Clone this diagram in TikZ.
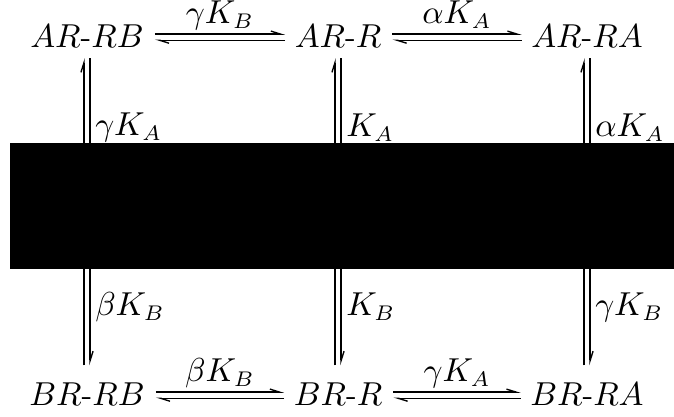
\documentclass[tikz,border=0pt]{standalone}
\usetikzlibrary{arrows.meta}
\begin{document}
\begin{tikzpicture}[x=0.33pt,y=-0.33pt,
  every node/.style={font=\fontsize{10.6}{13}\selectfont},
  st/.style={inner sep=0pt, text height=7.3pt, text depth=0pt, anchor=base},
  lab/.style={inner sep=1.5pt},
  hlab/.style={inner sep=0pt, anchor=base, yshift=3.4pt},
  hp/.style={line width=0.45pt, -{Straight Barb[harpoon,length=3.2pt,width=2pt,line width=0.45pt]}}]
\useasboundingbox (0,0) rectangle (674,416);
% nodes
\node[st] (arb) at (87,47)  {$AR$-$RB$};
\node[st] (ar)  at (338,47) {$AR$-$R$};
\node[st] (ara) at (587,47) {$AR$-$RA$};
\node[st] (brb) at (87,405)  {$BR$-$RB$};
\node[st] (br)  at (338,405) {$BR$-$R$};
\node[st] (bra) at (587,405) {$BR$-$RA$};
% horizontal top
\draw[hp] ([yshift=0.6pt,xshift=3.5pt]arb.east) -- node[hlab]{$\gamma K_B$} ([yshift=0.6pt,xshift=-3pt]ar.west);
\draw[hp] ([yshift=-1.4pt,xshift=-3pt]ar.west) -- ([yshift=-1.4pt,xshift=3.5pt]arb.east);
\draw[hp] ([yshift=0.6pt,xshift=3.5pt]ar.east) -- node[hlab]{$\alpha K_A$} ([yshift=0.6pt,xshift=-3pt]ara.west);
\draw[hp] ([yshift=-1.4pt,xshift=-3pt]ara.west) -- ([yshift=-1.4pt,xshift=3.5pt]ar.east);
% horizontal bottom
\draw[hp] ([yshift=0.6pt,xshift=3.5pt]brb.east) -- node[hlab]{$\beta K_B$} ([yshift=0.6pt,xshift=-3pt]br.west);
\draw[hp] ([yshift=-1.4pt,xshift=-3pt]br.west) -- ([yshift=-1.4pt,xshift=3.5pt]brb.east);
\draw[hp] ([yshift=0.6pt,xshift=3.5pt]br.east) -- node[hlab]{$\gamma K_A$} ([yshift=0.6pt,xshift=-3pt]bra.west);
\draw[hp] ([yshift=-1.4pt,xshift=-3pt]bra.west) -- ([yshift=-1.4pt,xshift=3.5pt]br.east);
% vertical
\foreach \t/\b/\la/\lb in {arb/brb/\gamma K_A/\beta K_B, ar/br/K_A/K_B, ara/bra/\alpha K_A/\gamma K_B}{
  \draw[hp] ([xshift=-1pt,yshift=5.6pt]\b.north) -- ([xshift=-1pt,yshift=-3.5pt]\t.south);
  \draw[hp] ([xshift=1pt,yshift=-3.5pt]\t.south) --
     node[lab,right,pos=0.225]{$\la$}
     node[lab,right,pos=0.81]{$\lb$}
     ([xshift=1pt,yshift=5.6pt]\b.north);
}
% redaction
\fill[black] (10,143) rectangle (674,269);
\end{tikzpicture}
\end{document}
